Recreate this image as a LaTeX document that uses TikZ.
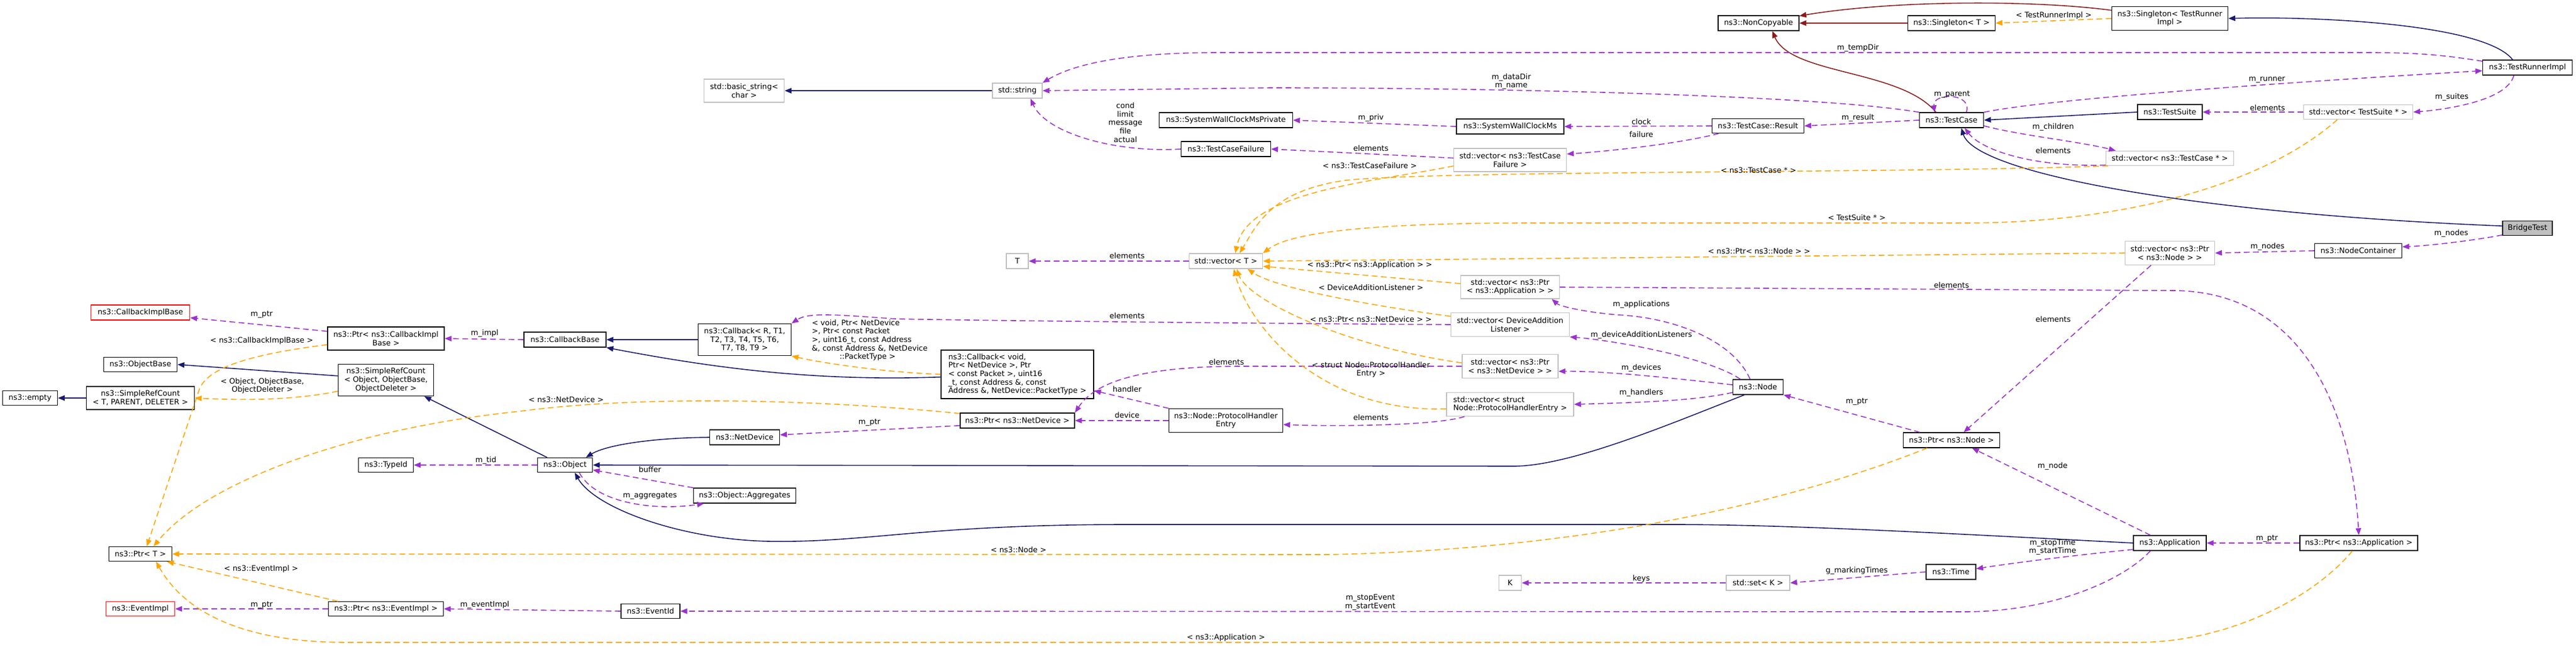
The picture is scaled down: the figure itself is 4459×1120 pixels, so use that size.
\documentclass[tikz,border=0pt]{standalone}
\usepackage{fontspec}
\setmainfont{DejaVu Sans}
\usetikzlibrary{arrows.meta}

\definecolor{inhblue}{RGB}{25,25,112}
\definecolor{useorchid}{RGB}{154,50,205}
\definecolor{tmplorange}{RGB}{255,165,0}
\definecolor{privred}{RGB}{139,26,26}
\definecolor{undocgray}{RGB}{191,191,191}

\tikzset{
  cls/.style={draw=black, line width=1pt, inner sep=0pt, align=center, font=\fontsize{9.8}{11}\selectfont},
  undoc/.style={cls, draw=undocgray},
  incomplete/.style={cls, draw=red},
  sz/.style 2 args={minimum width=#1*0.75pt, minimum height=#2*0.75pt},
  lbl/.style={inner sep=0pt, align=center, font=\fontsize{9.8}{11}\selectfont},
  inh/.style={draw=inhblue, line width=1.2pt, -{Triangle[length=9pt,width=7pt]}},
  priv/.style={inh, draw=privred},
  use/.style={draw=useorchid, line width=1.2pt, dash pattern=on 7.5pt off 4.5pt, -{Triangle[length=9pt,width=7pt]}},
  tmpl/.style={use, draw=tmplorange},
}

\begin{document}
\begin{tikzpicture}[x=0.75pt, y=-0.75pt]
    \useasboundingbox (0,0) rectangle (4459,1120);

    % Left columns
    \node[cls, sz={95}{25}] (empty) at (52,689) {ns3::empty};
    \node[cls, sz={187}{40}] (srt) at (243,689) {ns3::SimpleRefCount\\< T, PARENT, DELETER >};
    \node[cls, sz={127}{25}] (obase) at (243,631) {ns3::ObjectBase};
    \node[incomplete, sz={171}{26}] (cib) at (243,541) {ns3::CallbackImplBase};
    \node[cls, sz={109}{25}] (ptrt) at (243,959) {ns3::Ptr< T >};
    \node[incomplete, sz={119}{25}] (evi) at (243,1054) {ns3::EventImpl};
    \node[cls, sz={202}{40}] (pcib) at (668,586) {ns3::Ptr< ns3::CallbackImpl\\Base >};
    \node[cls, sz={165}{55}] (src) at (668,658) {ns3::SimpleRefCount\\< Object, ObjectBase,\\ObjectDeleter >};
    \node[cls, sz={95}{25}] (tid) at (668,805) {ns3::TypeId};
    \node[cls, sz={199}{25}] (pevi) at (668,1054) {ns3::Ptr< ns3::EventImpl >};
    \node[cls, sz={142}{26}] (cbb) at (978,588) {ns3::CallbackBase};
    \node[cls, sz={95}{25}] (obj) at (978,805) {ns3::Object};
    \node[cls, sz={102}{25}] (evid) at (1126,1058) {ns3::EventId};
    \node[undoc, sz={139}{40}] (bstr) at (1288,157) {std::basic\_string<\\char >};
    \node[cls, sz={161}{55}] (cbr) at (1289,588) {ns3::Callback< R, T1,\\T2, T3, T4, T5, T6,\\T7, T8, T9 >};
    \node[cls, sz={121}{26}] (ndev) at (1289,757) {ns3::NetDevice};
    \node[cls, sz={177}{26}] (aggr) at (1289,858) {ns3::Object::Aggregates};

    % Middle columns
    \node[undoc, sz={86}{26}] (str) at (1761,157) {std::string};
    \node[undoc, sz={38}{26}] (tt) at (1761,452) {T};
    \node[cls, sz={264}{84}, align=left] (cbv) at (1761,648) {ns3::Callback< void,\\ Ptr< NetDevice >, Ptr\\< const Packet >, uint16\\\_t, const Address \&, const\\ Address \&, NetDevice::PacketType >};
    \node[cls, sz={198}{26}] (pnd) at (1761,728) {ns3::Ptr< ns3::NetDevice >};
    \node[cls, sz={231}{26}] (swcp) at (2122,208) {ns3::SystemWallClockMsPrivate};
    \node[cls, sz={155}{26}] (tcf) at (2122,258) {ns3::TestCaseFailure};
    \node[undoc, sz={127}{26}] (vt) at (2122,452) {std::vector< T >};
    \node[cls, sz={197}{41}] (phe) at (2122,728) {ns3::Node::ProtocolHandler\\Entry};
    \node[cls, sz={186}{26}] (swc) at (2614,219) {ns3::SystemWallClockMs};
    \node[undoc, sz={195}{40}] (vtcf) at (2614,277) {std::vector< ns3::TestCase\\Failure >};
    \node[undoc, sz={171}{40}] (vapp) at (2614,497) {std::vector< ns3::Ptr\\< ns3::Application > >};
    \node[undoc, sz={205}{41}] (vdal) at (2614,562) {std::vector< DeviceAddition\\Listener >};
    \node[undoc, sz={166}{41}] (vnd) at (2614,634) {std::vector< ns3::Ptr\\< ns3::NetDevice > >};
    \node[undoc, sz={220}{41}, align=left] (vphe) at (2614,700) {std::vector< struct\\ Node::ProtocolHandlerEntry >};
    \node[undoc, sz={39}{26}] (kk) at (2614,1009) {K};

    % Right columns
    \node[cls, sz={140}{26}] (nc) at (3044,40) {ns3::NonCopyable};
    \node[cls, sz={159}{25}] (tcr) at (3043,218) {ns3::TestCase::Result};
    \node[cls, sz={87}{26}] (node) at (3043,670) {ns3::Node};
    \node[undoc, sz={110}{26}] (setk) at (3043,1009) {std::set< K >};
    \node[cls, sz={151}{26}] (sgt) at (3378,40) {ns3::Singleton< T >};
    \node[cls, sz={111}{26}] (tc) at (3378,208) {ns3::TestCase};
    \node[cls, sz={167}{26}] (pnode) at (3378,762) {ns3::Ptr< ns3::Node >};
    \node[cls, sz={86}{26}] (time) at (3377,990) {ns3::Time};
    \node[cls, sz={201}{41}] (sgtri) at (3756,32) {ns3::Singleton< TestRunner\\Impl >};
    \node[cls, sz={112}{26}] (tsuite) at (3756,194) {ns3::TestSuite};
    \node[undoc, sz={221}{25}] (vtc) at (3756,274) {std::vector< ns3::TestCase * >};
    \node[undoc, sz={155}{41}] (vnode) at (3756,438) {std::vector< ns3::Ptr\\< ns3::Node > >};
    \node[cls, sz={126}{26}] (app) at (3756,940) {ns3::Application};
    \node[undoc, sz={189}{25}] (vsuite) at (4082,194) {std::vector< TestSuite * >};
    \node[cls, sz={151}{25}] (ncont) at (4082,434) {ns3::NodeContainer};
    \node[cls, sz={204}{26}] (papp) at (4083,940) {ns3::Ptr< ns3::Application >};
    \node[cls, sz={155}{26}] (tri) at (4375,117) {ns3::TestRunnerImpl};
    \node[cls, sz={86}{25}, fill=undocgray] (bridge) at (4375,395) {BridgeTest};

    % Private inheritance
    \draw[priv] (sgtri.172) .. controls (3520,0) and (3280,0) .. (nc.10);
    \draw[priv] (sgt.west) -- (nc.east);
    \draw[priv] (tc.153) .. controls (3290,120) and (3100,130) .. (nc.-30);

    % Inheritance
    \draw[inh] (tri.152) .. controls (4300,40) and (4000,28) .. (sgtri.east);
    \draw[inh] (str.west) -- (bstr.east);
    \draw[inh] (tsuite.west) -- (tc.east);
    \draw[inh] (bridge.175) .. controls (3800,370) and (3420,300) .. (tc.-39);
    \draw[inh] (cbr.west) -- (cbb.east);
    \draw[inh] (cbv.-178) .. controls (1420,660) and (1250,640) .. (cbb.south east);
    \draw[inh] (src.175) -- (obase.east);
    \draw[inh] (srt.west) -- (empty.east);
    \draw[inh] (obj.157) -- (src.-23);
    \draw[inh] (ndev.west) .. controls (1130,758) and (1050,770) .. (obj.20);
    \draw[inh] (node.-150) .. controls (2900,730) and (2720,807) .. (2620,807) -- (obj.east);
    \draw[inh] (app.west) .. controls (3400,925) and (3100,908) .. (2900,908) -- (1950,908)
        .. controls (1600,908) and (1500,940) .. (1330,937) .. controls (1180,934) and (1030,880) .. (obj.-38);

    % Usage
    \draw[use] (tri.172) .. controls (4230,95) and (4180,91) .. (4100,91) -- (2110,91)
        .. controls (1950,91) and (1860,110) .. (str.north east);
    \draw[use] (tc.north west) .. controls (3150,165) and (2600,152) .. (2200,152) -- (str.east);
    \draw[use] (tcf.west) .. controls (1930,265) and (1810,230) .. (str.-31);
    \draw[use] (tc.28) .. controls (3415,160) and (3345,160) .. (tc.155);
    \draw[use] (tc.north east) .. controls (3550,170) and (4000,140) .. (tri.-176);
    \draw[use] (vsuite.west) -- (tsuite.east);
    \draw[use] (tri.-150) .. controls (4340,175) and (4230,190) .. (vsuite.east);
    \draw[use] (tc.west) -- (tcr.east);
    \draw[use] (tcr.west) -- (swc.east);
    \draw[use] (tcr.-169) .. controls (2900,250) and (2780,262) .. (vtcf.6);
    \draw[use] (swc.west) -- (swcp.east);
    \draw[use] (vtcf.178) -- (tcf.east);
    \draw[use] (tc.-10) .. controls (3500,235) and (3600,245) .. (vtc.172);
    \draw[use] (vtc.-174) .. controls (3520,290) and (3430,260) .. (tc.-31);
    \draw[use] (bridge.-165) .. controls (4290,415) and (4210,425) .. (ncont.5);
    \draw[use] (ncont.west) -- (vnode.east);
    \draw[use] (vt.west) -- (tt.east);
    \draw[use] (vapp.east) -- (3760,503) .. controls (3980,503) and (4070,700) .. (papp.north);
    \draw[use] (node.135) .. controls (3000,590) and (2900,550) .. (2800,545)
        .. controls (2740,540) and (2700,530) .. (vapp.-16);
    \draw[use] (node.156) .. controls (2960,620) and (2800,590) .. (vdal.south east);
    \draw[use] (node.175) .. controls (2900,655) and (2780,642) .. (vnd.-6);
    \draw[use] (node.-168) .. controls (2930,695) and (2820,697) .. (vphe.east);
    \draw[use] (vnd.west) -- (2150,634) .. controls (1950,634) and (1890,670) .. (pnd.north east);
    \draw[use] (vphe.-165) .. controls (2480,738) and (2300,738) .. (phe.-4);
    \draw[use] (phe.west) -- (pnd.east);
    \draw[use] (phe.north west) -- (cbv.-12);
    \draw[use] (vdal.west) .. controls (2200,560) and (1700,555) .. (1550,552)
        .. controls (1450,545) and (1400,540) .. (cbr.north east);
    \draw[use] (cbb.west) -- (pcib.east);
    \draw[use] (pcib.173) -- (cib.-6);
    \draw[use] (obj.west) -- (tid.east);
    \draw[use] (aggr.north west) -- (obj.-10);
    \draw[use] (obj.-28) .. controls (1030,870) and (1130,885) .. (aggr.-169);
    \draw[use] (pnd.-175) -- (ndev.4);
    \draw[use] (pnode.166) -- (node.south east);
    \draw[use] (vnode.-147) -- (pnode.33);
    \draw[use] (app.158) -- (pnode.-21);
    \draw[use] (papp.west) -- (app.east);
    \draw[use] (app.-170) .. controls (3600,960) and (3480,975) .. (time.7);
    \draw[use] (time.west) -- (setk.east);
    \draw[use] (setk.west) -- (kk.east);
    \draw[use] (app.-158) .. controls (3680,1000) and (3560,1059) .. (3400,1059) -- (evid.east);
    \draw[use] (evid.west) -- (pevi.east);
    \draw[use] (pevi.west) -- (evi.east);

    % Template instances
    \draw[tmpl] (sgtri.west) -- (sgt.east);
    \draw[tmpl] (vnode.west) -- (vt.east);
    \draw[tmpl] (vtc.-173) .. controls (3300,300) and (2500,295) .. (2330,312)
        .. controls (2200,330) and (2175,390) .. (vt.30);
    \draw[tmpl] (vsuite.-160) .. controls (3930,310) and (3700,386) .. (3400,386) -- (2650,386)
        .. controls (2350,386) and (2230,405) .. (vt.north east);
    \draw[tmpl] (vtcf.-174) .. controls (2380,315) and (2160,330) .. (vt.40);
    \draw[tmpl] (vapp.176) -- (vt.-8);
    \draw[tmpl] (vdal.172) .. controls (2380,530) and (2210,500) .. (vt.-20);
    \draw[tmpl] (vnd.176) .. controls (2330,600) and (2160,520) .. (vt.-36);
    \draw[tmpl] (vphe.-176) .. controls (2280,715) and (2160,560) .. (vt.-45);
    \draw[tmpl] (cbv.west) .. controls (1540,645) and (1430,630) .. (cbr.south east);
    \draw[tmpl] (pcib.-174) .. controls (420,615) and (355,640) .. (344,677) -- (ptrt.50);
    \draw[tmpl] (src.-167) .. controls (500,695) and (400,692) .. (srt.east);
    \draw[tmpl] (pnd.173) .. controls (1400,690) and (1100,685) .. (900,712)
        .. controls (620,740) and (360,830) .. (ptrt.30);
    \draw[tmpl] (pnode.-162) .. controls (3150,850) and (2800,950) .. (2300,960) -- (ptrt.east);
    \draw[tmpl] (papp.-129) .. controls (4000,1040) and (3850,1112) .. (3700,1112) -- (600,1112)
        .. controls (420,1112) and (320,1060) .. (ptrt.-26);
    \draw[tmpl] (pevi.171) -- (ptrt.-16);

    % Edge labels
    \node[lbl] (l-trimpl) at (3555,27) {< TestRunnerImpl >};
    \node[lbl] (l-tempdir) at (3216,83) {m\_tempDir};
    \node[lbl] (l-dataname) at (2616,141) {m\_dataDir\\m\_name};
    \node[lbl] (l-cond) at (1948,212) {cond\\limit\\message\\file\\actual};
    \node[lbl] (l-parent) at (3379,163) {m\_parent};
    \node[lbl] (l-runner) at (3924,138) {m\_runner};
    \node[lbl] (l-suiteel) at (3925,187) {elements};
    \node[lbl] (l-suites) at (4244,168) {m\_suites};
    \node[lbl] (l-result) at (3216,204) {m\_result};
    \node[lbl] (l-clock) at (2841,211) {clock};
    \node[lbl] (l-failure) at (2841,233) {failure};
    \node[lbl] (l-priv) at (2373,204) {m\_priv};
    \node[lbl] (l-tcfel) at (2373,257) {elements};
    \node[lbl] (l-children) at (3554,220) {m\_children};
    \node[lbl] (l-tcel) at (3554,261) {elements};
    \node[lbl] (l-bnodes) at (4243,404) {m\_nodes};
    \node[lbl] (l-cnodes) at (3925,427) {m\_nodes};
    \node[lbl] (l-ptrnode) at (3045,435) {< ns3::Ptr< ns3::Node > >};
    \node[lbl] (l-tcptr) at (3044,295) {< ns3::TestCase * >};
    \node[lbl] (l-suiteptr) at (3214,377) {< TestSuite * >};
    \node[lbl] (l-tcf) at (2371,287) {< ns3::TestCaseFailure >};
    \node[lbl] (l-tel) at (1951,443) {elements};
    \node[lbl] (l-ptrapp) at (2371,459) {< ns3::Ptr< ns3::Application > >};
    \node[lbl] (l-dal) at (2373,498) {< DeviceAdditionListener >};
    \node[lbl] (l-ptrnd) at (2373,553) {< ns3::Ptr< ns3::NetDevice > >};
    \node[lbl] (l-phe) at (2373,640) {< struct Node::ProtocolHandler\\Entry >};
    \node[lbl] (l-appel) at (3378,494) {elements};
    \node[lbl] (l-apps) at (2841,527) {m\_applications};
    \node[lbl] (l-dals) at (2841,580) {m\_deviceAdditionListeners};
    \node[lbl] (l-devices) at (2841,637) {m\_devices};
    \node[lbl] (l-handlers) at (2841,680) {m\_handlers};
    \node[lbl] (l-ndel) at (2123,627) {elements};
    \node[lbl] (l-pheel) at (2373,723) {elements};
    \node[lbl] (l-device) at (1951,719) {device};
    \node[lbl] (l-handler) at (1951,674) {handler};
    \node[lbl] (l-dalel) at (1951,547) {elements};
    \node[lbl, align=left, anchor=west] (l-cbargs) at (1405,589) {< void, Ptr< NetDevice\\>, Ptr< const Packet\\>, uint16\_t, const Address\\\&, const Address \&, NetDevice\\\hspace*{36pt}::PacketType >};
    \node[lbl] (l-impl) at (839,577) {m\_impl};
    \node[lbl] (l-cibptr) at (453,544) {m\_ptr};
    \node[lbl] (l-cib) at (453,590) {< ns3::CallbackImplBase >};
    \node[lbl] (l-objargs) at (454,668) {< Object, ObjectBase,\\ObjectDeleter >};
    \node[lbl] (l-netdev) at (980,692) {< ns3::NetDevice >};
    \node[lbl] (l-tid) at (841,797) {m\_tid};
    \node[lbl] (l-buffer) at (1125,813) {buffer};
    \node[lbl] (l-aggr) at (1125,858) {m\_aggregates};
    \node[lbl] (l-ndptr) at (1505,731) {m\_ptr};
    \node[lbl] (l-nodeptr) at (3214,695) {m\_ptr};
    \node[lbl] (l-nodeel) at (3554,553) {elements};
    \node[lbl] (l-node) at (3553,807) {m\_node};
    \node[lbl] (l-nodeinst) at (1763,952) {< ns3::Node >};
    \node[lbl] (l-appptr) at (3924,932) {m\_ptr};
    \node[lbl] (l-appinst) at (2122,1104) {< ns3::Application >};
    \node[lbl] (l-times) at (3553,947) {m\_stopTime\\m\_startTime};
    \node[lbl] (l-marking) at (3214,988) {g\_markingTimes};
    \node[lbl] (l-keys) at (2841,1002) {keys};
    \node[lbl] (l-events) at (2372,1043) {m\_stopEvent\\m\_startEvent};
    \node[lbl] (l-evimpl) at (839,1047) {m\_eventImpl};
    \node[lbl] (l-eviptr) at (453,1047) {m\_ptr};
    \node[lbl] (l-eviinst) at (452,985) {< ns3::EventImpl >};
\end{tikzpicture}
\end{document}
